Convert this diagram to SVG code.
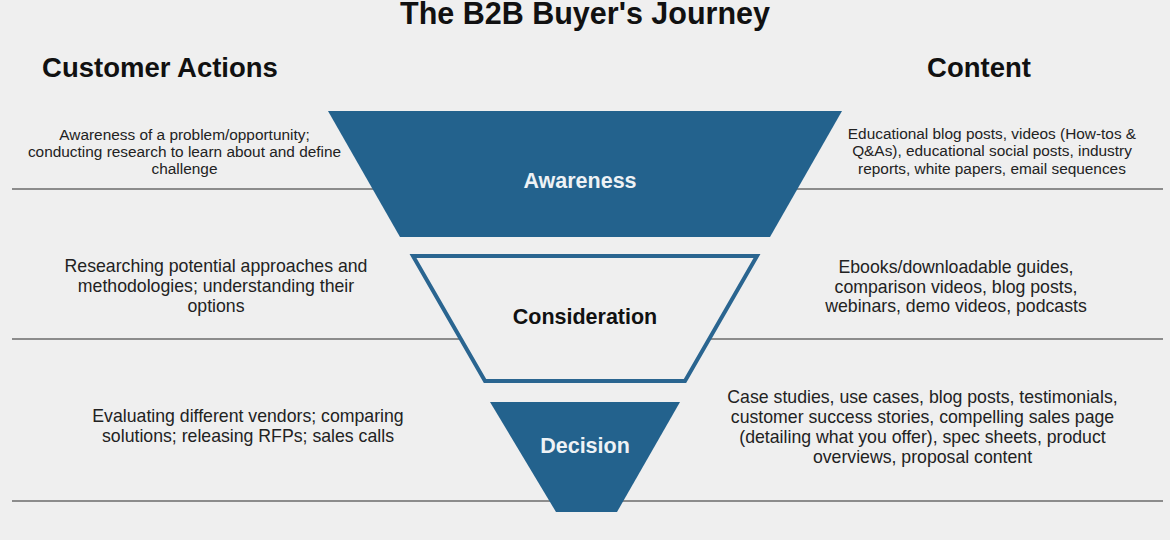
<svg xmlns="http://www.w3.org/2000/svg" width="1170" height="540" viewBox="0 0 1170 540">
<style>
.bg{fill:#efefef}
.rule{stroke:#8c8c8c;stroke-width:2;fill:none}
.title{font-family:"Liberation Sans",Arial,sans-serif;font-weight:bold;fill:#111;text-anchor:middle}
.body{font-family:"Liberation Sans",Arial,sans-serif;fill:#222;text-anchor:middle}
.s14{font-size:15.4px}
.s16{font-size:17.7px}
.stage{font-family:"Liberation Sans",Arial,sans-serif;font-weight:bold;font-size:21.5px;text-anchor:middle}
.fill{fill:#23628d}
.outline{fill:#efefef;stroke:#2a6590;stroke-width:4;stroke-linejoin:miter}
</style>
<rect class="bg" x="0" y="0" width="1170" height="540"/>
<g id="connectors">
<line class="rule" x1="12" y1="189" x2="1163" y2="189"/>
<line class="rule" x1="12" y1="339" x2="467" y2="339"/>
<line class="rule" x1="710" y1="339" x2="1163" y2="339"/>
<line class="rule" x1="12" y1="501" x2="1163" y2="501"/>
</g>
<g id="headings">
<text class="title" x="585" y="24" font-size="30.5">The B2B Buyer's Journey</text>
<text class="title" x="160" y="77" font-size="27.5">Customer Actions</text>
<text class="title" x="979" y="77" font-size="27.5">Content</text>
</g>
<g id="awareness">
<polygon class="fill" points="328,111 842,111 770,237 400,237"/>
<text class="stage" x="580" y="188" fill="#eef2f5">Awareness</text>
</g>
<g id="consideration">
<polygon class="outline" points="413,256 757,256 685,381 485,381"/>
<text class="stage" x="585" y="324" fill="#111">Consideration</text>
</g>
<g id="decision">
<polygon class="fill" points="490,402 680,402 617,512 556,512"/>
<text class="stage" x="585" y="453" fill="#eef2f5">Decision</text>
</g>
<g id="action-awareness">
<text class="body s14" x="184.5" y="140">Awareness of a problem/opportunity;</text>
<text class="body s14" x="184.5" y="157">conducting research to learn about and define</text>
<text class="body s14" x="184.5" y="174">challenge</text>
</g>
<g id="content-awareness">
<text class="body s14" x="992" y="139">Educational blog posts, videos (How-tos &amp;</text>
<text class="body s14" x="992" y="156">Q&amp;As), educational social posts, industry</text>
<text class="body s14" x="992" y="174">reports, white papers, email sequences</text>
</g>
<g id="action-consideration">
<text class="body s16" x="216" y="272">Researching potential approaches and</text>
<text class="body s16" x="216" y="292">methodologies; understanding their</text>
<text class="body s16" x="216" y="312">options</text>
</g>
<g id="content-consideration">
<text class="body s16" x="956" y="273">Ebooks/downloadable guides,</text>
<text class="body s16" x="956" y="293">comparison videos, blog posts,</text>
<text class="body s16" x="956" y="312">webinars, demo videos, podcasts</text>
</g>
<g id="action-decision">
<text class="body s16" x="248" y="422">Evaluating different vendors; comparing</text>
<text class="body s16" x="248" y="442">solutions; releasing RFPs; sales calls</text>
</g>
<g id="content-decision">
<text class="body s16" x="922.5" y="403">Case studies, use cases, blog posts, testimonials,</text>
<text class="body s16" x="922.5" y="423">customer success stories, compelling sales page</text>
<text class="body s16" x="922.5" y="443">(detailing what you offer), spec sheets, product</text>
<text class="body s16" x="922.5" y="463">overviews, proposal content</text>
</g>
</svg>
